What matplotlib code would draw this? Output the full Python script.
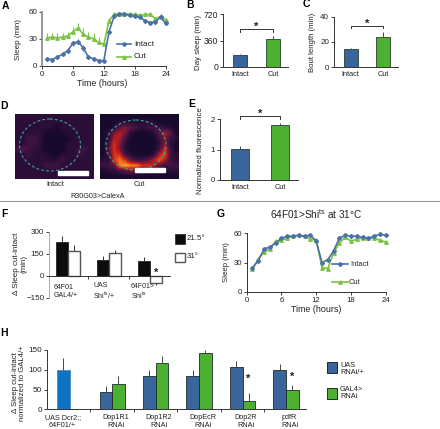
import numpy as np
import matplotlib
matplotlib.use("Agg")
import matplotlib.pyplot as plt
from matplotlib.colors import LinearSegmentedColormap
from matplotlib.patches import Ellipse, Rectangle

plt.rcParams['font.family'] = ['Liberation Sans', 'DejaVu Sans']
plt.rcParams['mathtext.default'] = 'regular'

W, H = 440, 429
BLUE = "#3a659c"
GREEN = "#4cb030"
LINE_BLUE = "#4a72a6"
LINE_GREEN = "#7cc243"
TXT = "#222222"

hours = list(range(1, 25))
a_intact = [8, 7, 10, 13, 17, 25, 27, 20, 10, 8, 6, 6, 38, 55, 57, 57, 56, 55, 54, 50, 48, 49, 54, 47]
a_intact_err = [2, 2, 2, 2, 3, 3, 3, 3, 2, 2, 2, 1, 3, 2, 2, 2, 2, 2, 2, 2, 2, 2, 2, 2]
a_cut = [31, 32, 31, 32, 33, 38, 42, 35, 32, 30, 26, 24, 50, 57, 58, 58, 57, 57, 56, 57, 57, 52, 55, 51]
a_cut_err = [5, 5, 5, 5, 5, 5, 5, 7, 6, 6, 6, 5, 3, 2, 2, 2, 2, 2, 2, 2, 2, 2, 2, 2]

g_intact = [25, 32, 44, 46, 50, 55, 57, 57, 58, 57, 58, 52, 30, 33, 42, 55, 58, 57, 57, 56, 55, 57, 59, 58]
g_cut = [23, 34, 41, 44, 52, 53, 55, 57, 58, 57, 54, 53, 25, 24, 40, 50, 56, 52, 54, 55, 55, 55, 53, 51]

groups_two = ["Intact", "Cut"]
b_vals = [165, 380]
b_err = [10, 35]
c_vals = [14, 24]
c_err = [1.5, 4]
e_vals = [1.03, 1.8]
e_err = [0.1, 0.09]

f_low = [235, 110, 100]
f_low_err = [35, 25, 30]
f_high = [170, 155, -48]
f_high_err = [40, 25, 12]

h_labels = ["UAS Dcr2;;\n64F01/+", "Dop1R1\nRNAi", "Dop1R2\nRNAi", "DopEcR\nRNAi", "Dop2R\nRNAi", "pdfR\nRNAi"]
h_ctrl = [100]
h_ctrl_err = [30]
h_uas = [43, 85, 85, 107, 100]
h_uas_err = [17, 15, 15, 15, 15]
h_gal = [65, 118, 143, 22, 50]
h_gal_err = [18, 17, 7, 18, 12]

# coarse brightness of the two microscope images, read by eye
img_intact = [
    [1, 1, 1, 1, 1, 1, 1, 1, 1, 1, 1, 1, 1, 1],
    [1, 1, 1, 1, 1, 1, 1, 1, 1, 1, 1, 1, 1, 1],
    [1, 1, 1, 1, 1, 1, 1, 0, 1, 1, 1, 1, 1, 1],
    [1, 1, 1, 1, 1, 0, 0, 0, 0, 1, 1, 1, 1, 1],
    [1, 1, 2, 2, 1, 0, 0, 0, 0, 0, 1, 1, 1, 1],
    [1, 1, 2, 2, 1, 0, 0, 0, 0, 1, 1, 1, 1, 1],
    [2, 3, 2, 1, 1, 0, 0, 0, 0, 1, 1, 2, 2, 1],
    [1, 1, 2, 1, 1, 1, 0, 0, 1, 1, 1, 2, 1, 1],
    [1, 1, 1, 1, 1, 1, 1, 1, 2, 1, 1, 1, 1, 1],
    [1, 1, 1, 1, 1, 2, 2, 2, 1, 1, 1, 1, 1, 1],
    [1, 1, 1, 1, 1, 1, 1, 1, 1, 1, 1, 1, 1, 1],
    [1, 1, 1, 1, 1, 1, 1, 1, 1, 1, 1, 1, 1, 1],
]
img_cut = [
    [0, 0, 0, 0, 0, 0, 0, 0, 0, 0, 0, 0, 0, 0],
    [0, 0, 0, 1, 1, 1, 1, 1, 1, 1, 0, 0, 0, 0],
    [0, 0, 1, 3, 4, 3, 2, 1, 2, 2, 2, 1, 1, 0],
    [0, 1, 4, 5, 4, 1, 0, 0, 0, 1, 3, 5, 3, 0],
    [0, 1, 5, 5, 2, 0, 0, 0, 0, 0, 2, 4, 2, 1],
    [0, 2, 6, 4, 1, 0, 0, 0, 0, 0, 1, 4, 1, 0],
    [0, 3, 6, 4, 1, 0, 0, 0, 0, 0, 2, 6, 2, 0],
    [0, 2, 6, 6, 2, 1, 0, 0, 0, 1, 5, 7, 2, 1],
    [1, 1, 6, 8, 6, 3, 2, 2, 3, 5, 7, 5, 2, 1],
    [2, 2, 3, 8, 9, 8, 8, 6, 6, 5, 3, 2, 2, 2],
    [0, 1, 1, 2, 3, 4, 3, 2, 2, 1, 1, 0, 1, 1],
    [0, 0, 0, 0, 0, 0, 0, 0, 0, 0, 0, 0, 0, 0],
]

fig = plt.figure(figsize=(W / 100, H / 100), dpi=100)


def ax_px(x0, y_top, x1, y_bot, tick_size=5.8):
    ax = fig.add_axes([x0 / W, 1 - y_bot / H, (x1 - x0) / W, (y_bot - y_top) / H])
    ax.patch.set_alpha(0)
    ax.spines[['top', 'right']].set_visible(False)
    for s in ax.spines.values():
        s.set_linewidth(0.7)
        s.set_color("#333333")
    ax.tick_params(labelsize=tick_size, length=2, width=0.6, pad=1.5, colors=TXT)
    return ax


def two_bars(ax, vals, errs):
    ax.bar([0, 1], vals, width=0.43, color=[BLUE, GREEN], edgecolor="#26402a", linewidth=0.6)
    ax.errorbar([0, 1], vals, yerr=[[0, 0], errs], fmt='none', ecolor="#444444", elinewidth=0.7)
    ax.set_xticks([0, 1], groups_two)
    ax.tick_params(axis='x', length=0, pad=3, labelsize=5.3)


# A
ax = ax_px(42, 11.7, 165.7, 66)
ax.errorbar(hours, a_cut, yerr=[[0] * 24, a_cut_err], color=LINE_GREEN, lw=1.2, marker='^', ms=2.5, elinewidth=0.7, clip_on=False)
ax.errorbar(hours, a_intact, yerr=a_intact_err, color=LINE_BLUE, lw=1.2, marker='D', ms=2, elinewidth=0.7, clip_on=False)
ax.set_xlim(0, 24)
ax.set_ylim(0, 60)
ax.set_xticks([0, 6, 12, 18, 24])
ax.set_yticks([0, 30, 60])
ax.spines['left'].set_color("#888888")
ax.spines['left'].set_linewidth(1.2)

# B
ax = ax_px(223, 14, 288, 67, 6.2)
two_bars(ax, b_vals, b_err)
ax.set_xlim(-0.515, 1.45)
ax.set_ylim(0, 720)
ax.set_yticks([0, 360, 720])

# C
ax = ax_px(334, 16.7, 398, 67, 5.8)
two_bars(ax, c_vals, c_err)
ax.set_xlim(-0.51, 1.46)
ax.set_ylim(0, 40)
ax.set_yticks([0, 20, 40])

# D
cmap = LinearSegmentedColormap.from_list("heat", ["#170a2c", "#3a1242", "#6d1838", "#c4201e", "#ee5a18", "#f8b030"])
for box, grid in [((15, 114, 93, 179), img_intact), ((100, 114, 178, 179), img_cut)]:
    ax = fig.add_axes([box[0] / W, 1 - box[3] / H, (box[2] - box[0]) / W, (box[3] - box[1]) / H])
    ax.imshow(np.array(grid), cmap=cmap, vmin=0, vmax=9, aspect='auto', interpolation='bilinear', extent=(0, 78, 65, 0))
    ax.axis('off')
    if grid is img_intact:
        ax.add_patch(Ellipse((35, 31), 61, 52, fill=False, ec="#3fa59a", lw=0.8, ls=(0, (2.5, 2))))
        ax.add_patch(Rectangle((43, 57), 30, 4, color="white"))
    else:
        ax.add_patch(Ellipse((36, 31), 60, 50, fill=False, ec="#3fa59a", lw=0.8, ls=(0, (2.5, 2))))
        ax.add_patch(Rectangle((35, 54), 30, 4, color="white"))

# E
ax = ax_px(220, 119.3, 298, 180, 5.6)
two_bars(ax, e_vals, e_err)
ax.set_xlim(-0.5, 1.45)
ax.set_ylim(0, 2)
ax.set_yticks([0, 1, 2])

# F
ax = ax_px(49, 232, 170, 298)
fx = np.arange(3)
ax.bar(fx - 0.145, f_low, width=0.29, color="#0c0c0c", edgecolor="#222222", linewidth=0.6)
ax.bar(fx + 0.145, f_high, width=0.29, color="white", edgecolor="#555555", linewidth=1.0)
ax.errorbar(fx - 0.145, f_low, yerr=[[0] * 3, f_low_err], fmt='none', ecolor="#333333", elinewidth=0.7)
ax.errorbar(fx + 0.145, f_high, yerr=[[0, 0, f_high_err[2]], [f_high_err[0], f_high_err[1], 0]], fmt='none', ecolor="#333333", elinewidth=0.7)
ax.set_xlim(-0.46, 2.49)
ax.set_ylim(-150, 300)
ax.set_yticks([-150, 0, 150, 300], ["\u2212150", "0", "150", "300"])
ax.spines['left'].set_color("#aaaaaa")
ax.spines['bottom'].set_position(('data', 0))
ax.set_xticks([0.5, 1.5], ["", ""])

# G
ax = ax_px(246.7, 233.3, 385.7, 292, 5.6)
ax.plot(hours, g_cut, color=LINE_GREEN, lw=1.2, marker='^', ms=2.5, clip_on=False)
ax.plot(hours, g_intact, color=LINE_BLUE, lw=1.2, marker='D', ms=2, clip_on=False)
ax.set_xlim(0, 24)
ax.set_ylim(0, 60)
ax.set_xticks([0, 6, 12, 18, 24])
ax.set_yticks([0, 30, 60])

# H
ax = ax_px(47, 350, 306, 409.3, 5.9)
hx = np.arange(1, 6)
ax.bar([-0.13], h_ctrl, width=0.3, color="#0f72c4", edgecolor="#3a7fb8", linewidth=0.5)
ax.errorbar([-0.13], h_ctrl, yerr=[[0], h_ctrl_err], fmt='none', ecolor="#444444", elinewidth=0.7)
ax.bar(hx - 0.145, h_uas, width=0.29, color=BLUE, edgecolor="#1c2c24", linewidth=0.6)
ax.bar(hx + 0.145, h_gal, width=0.29, color=GREEN, edgecolor="#1c2c24", linewidth=0.6)
ax.errorbar(hx - 0.145, h_uas, yerr=[[0] * 5, h_uas_err], fmt='none', ecolor="#444444", elinewidth=0.7)
ax.errorbar(hx + 0.145, h_gal, yerr=[[0] * 5, h_gal_err], fmt='none', ecolor="#444444", elinewidth=0.7)
ax.set_xlim(-0.5, 5.46)
ax.set_ylim(0, 150)
ax.set_yticks([0, 50, 100, 150])
ax.set_xticks(np.arange(0.5, 5))
ax.set_xticklabels([])
ax.set_xticks([-0.14, 1.08, 2.08, 3.08, 4.08, 5.08], h_labels, minor=True)
ax.tick_params(axis='x', which='minor', length=0, labelsize=5.2, pad=3.5, colors=TXT)

# everything placed by pixel: letters, axis titles, legends, brackets
ov = fig.add_axes([0, 0, 1, 1], zorder=10)
ov.set_xlim(0, W)
ov.set_ylim(H, 0)
ov.axis('off')
ov.patch.set_alpha(0)


def label(x, y, s, size=5.8, rot=0, ha='center', **kw):
    ov.text(x, y, s, fontsize=size, rotation=rot, ha=ha, va='center', color=TXT, linespacing=1.15, **kw)


for letter, x, y in [("A", 5, 6), ("B", 190, 5), ("C", 306, 4), ("D", 4, 106), ("E", 192, 104),
                     ("F", 4, 214), ("G", 221, 214), ("H", 4, 333)]:
    ov.text(x, y, letter, fontsize=7.5, fontweight='bold', ha='center', va='center', color="black")

label(19, 39, "Sleep (min)", 5.8, 90)
label(102, 84, "Time (hours)", 6.4)
label(199, 42, "Day sleep (min)", 5.7, 90)
label(312.5, 42, "Bout length (min)", 5.6, 90)
label(201, 151, "Normalized fluorescence", 5.7, 90)
label(20, 264, "\u0394 Sleep cut-intact\n(min)", 5.8, 90)
label(226, 262, "Sleep (min)", 5.6, 90)
label(316, 310, "Time (hours)", 6.4)
label(316, 214, "64F01>Shi$^{ts}$ at 31\u00b0C", 7.2)
label(19, 383, "\u0394 Sleep cut-intact\nnormalized to GAL4/+", 5.6, 90)

label(55, 185, "Intact", 5.3)
label(139, 185, "Cut", 5.3)
label(98, 196, "R30G03>CalexA", 5.2)
ov.plot([0, W], [200.7, 200.7], color="#999999", lw=0.8)

# A and G line legends
ov.plot([117, 131], [44, 44], color=LINE_BLUE, lw=1.2)
ov.plot([124], [44], color=LINE_BLUE, marker='D', ms=2)
label(134, 44, "Intact", 5.9, ha='left')
ov.plot([117, 131], [57, 57], color=LINE_GREEN, lw=1.2)
ov.plot([124], [57], color=LINE_GREEN, marker='^', ms=2.5)
label(134, 57, "Cut", 5.9, ha='left')
ov.plot([332, 348], [264, 264], color=LINE_BLUE, lw=1.2)
ov.plot([340], [264], color=LINE_BLUE, marker='D', ms=2)
label(350, 264, "Intact", 5.4, ha='left')
ov.plot([332, 348], [282, 282], color=LINE_GREEN, lw=1.2)
ov.plot([340], [282], color=LINE_GREEN, marker='^', ms=2.5)
label(349, 282, "Cut", 5.4, ha='left')

# F legend and group labels
ov.add_patch(Rectangle((175, 234), 10, 9.5, fc="#0c0c0c", ec="#333333", lw=0.6))
label(187, 239, "21.5\u00b0", 5.7, ha='left')
ov.add_patch(Rectangle((175, 252.5), 10, 9.5, fc="white", ec="#555555", lw=1))
label(187, 257, "31\u00b0", 5.7, ha='left')
label(54, 291.5, "64F01\nGAL4/+", 5, ha='left')
label(93, 291.5, "UAS\nShi$^{ts}$/+", 5, ha='left')
label(131, 292, "64F01>\nShi$^{ts}$", 5, ha='left')
label(156, 273, "*", 8, fontweight='bold')

# H legend and stars
ov.add_patch(Rectangle((326.5, 362), 10.5, 11, fc=BLUE, ec="#1c2c24", lw=0.7))
label(340, 369, "UAS\nRNAi/+", 5.3, ha='left')
ov.add_patch(Rectangle((326.5, 387.5), 10.5, 11.5, fc=GREEN, ec="#1c2c24", lw=0.7))
label(340, 393, "GAL4>\nRNAi", 5.3, ha='left')
label(248.5, 379, "*", 8, fontweight='bold')
label(292, 377, "*", 8, fontweight='bold')

# significance brackets
for x0, x1, y in [(240, 273, 29), (350.5, 383, 25.5), (240, 280, 116)]:
    ov.plot([x0, x0, x1, x1], [y + 2.5, y, y, y + 2.5], color="#333333", lw=0.7)
    label((x0 + x1) / 2, y - 2, "*", 8, fontweight='bold')

fig.savefig("out.png", dpi=100)
